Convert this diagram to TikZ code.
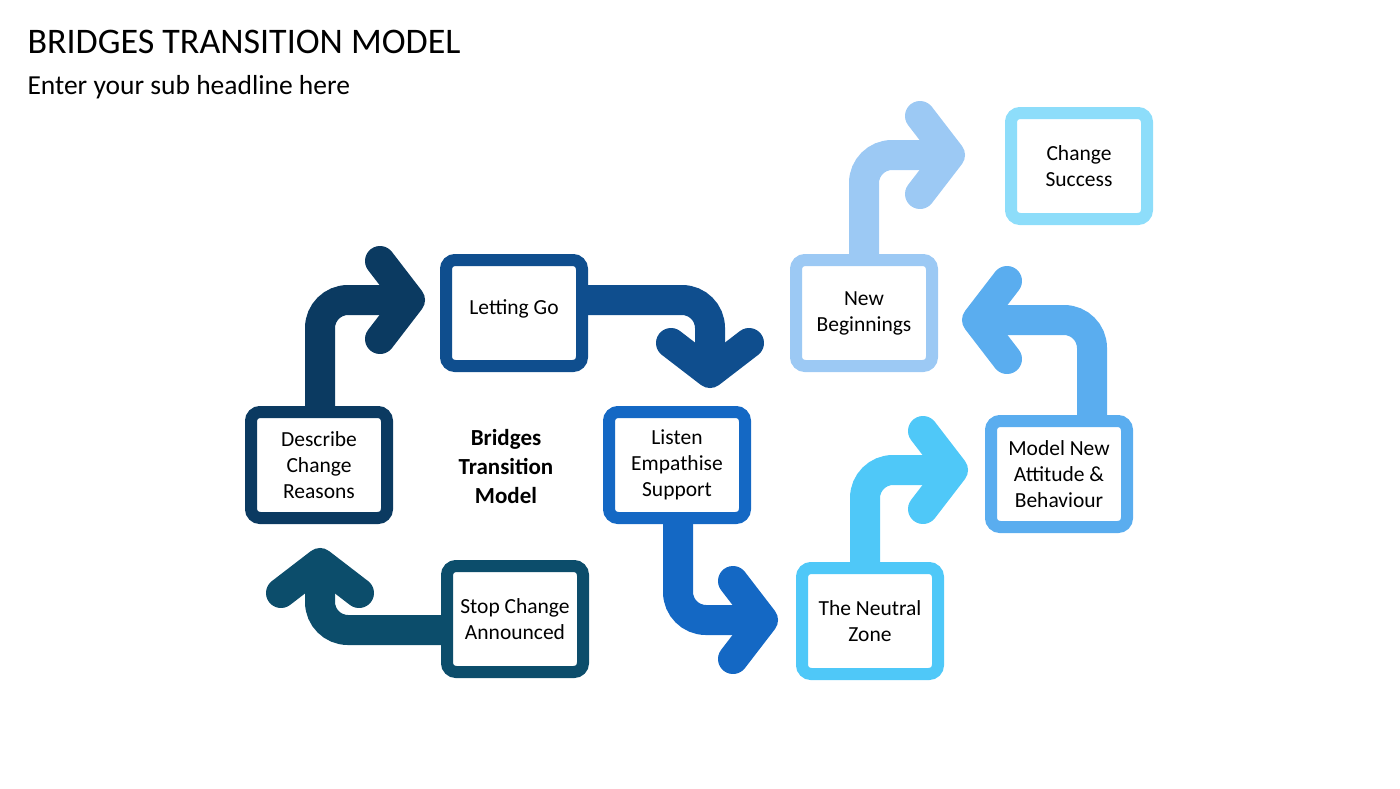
\documentclass[tikz,border=0pt]{standalone}
\usepackage{fontspec}
\setmainfont{Carlito}
\usetikzlibrary{arrows.meta}
\definecolor{cStop}{HTML}{0C4D6B}
\definecolor{cDesc}{HTML}{0B3A61}
\definecolor{cLet}{HTML}{0F4E8E}
\definecolor{cListen}{HTML}{1468C4}
\definecolor{cNeutral}{HTML}{4FC8F8}
\definecolor{cModel}{HTML}{5AADEF}
\definecolor{cNew}{HTML}{9CC9F4}
\definecolor{cSucc}{HTML}{8DDDFA}
\tikzset{
  box/.style={draw=#1, fill=white, line width=12pt, rounded corners=9pt,
    minimum width=136pt, minimum height=106pt, align=center,
    font=\fontsize{21.5}{26}\selectfont},
  flow/.style={draw=#1, line width=30pt, rounded corners=28pt,
    -{Straight Barb[round, length=30pt, width=78pt]}},
}
\begin{document}
\begin{tikzpicture}[x=1pt,y=-1pt]
\useasboundingbox (0,0) rectangle (1400,788);
\node[anchor=west, font=\fontsize{36}{40}\selectfont] (title) at (24,42) {BRIDGES TRANSITION MODEL};
\node[anchor=west, font=\fontsize{27.5}{32}\selectfont] (sub) at (24,87) {Enter your sub headline here};
% arrows first
\coordinate (t1) at (320,548);
\coordinate (t2) at (425,300);
\coordinate (t3) at (710,388);
\coordinate (t4) at (778,620);
\coordinate (t5) at (968,470);
\coordinate (t6) at (962,320);
\coordinate (t7) at (965,155);
\draw[flow=cStop] (515,630) -| (t1);
\draw[flow=cDesc] (320,470) |- (t2);
\draw[flow=cLet] (515,300) -| (t3);
\draw[flow=cListen] (678,470) |- (t4);
\draw[flow=cNeutral] (865,620) |- (t5);
\draw[flow=cModel] (1092,470) |- (t6);
\draw[flow=cNew] (864,310) |- (t7);
% boxes
\node[box=cStop] (stop) at (515,619) {Stop Change\\Announced};
\node[box=cDesc] (desc) at (319,465) {Describe\\Change\\Reasons};
\node[box=cLet] (let) at (514,313) {\raisebox{11pt}{Letting Go}};
\node[box=cListen] (listen) at (677,465) {Listen\\Empathise\\Support};
\node[box=cNeutral] (neutral) at (870,621) {The Neutral\\Zone};
\node[box=cModel] (model) at (1059,474) {Model New\\Attitude \&\\Behaviour};
\node[box=cNew] (new) at (864,313) {New\\Beginnings};
\node[box=cSucc] (succ) at (1079,166) {Change\\Success};
\node[align=center, font=\bfseries\fontsize{23}{29}\selectfont] (centre) at (506,467) {Bridges\\Transition\\Model};
\end{tikzpicture}
\end{document}
